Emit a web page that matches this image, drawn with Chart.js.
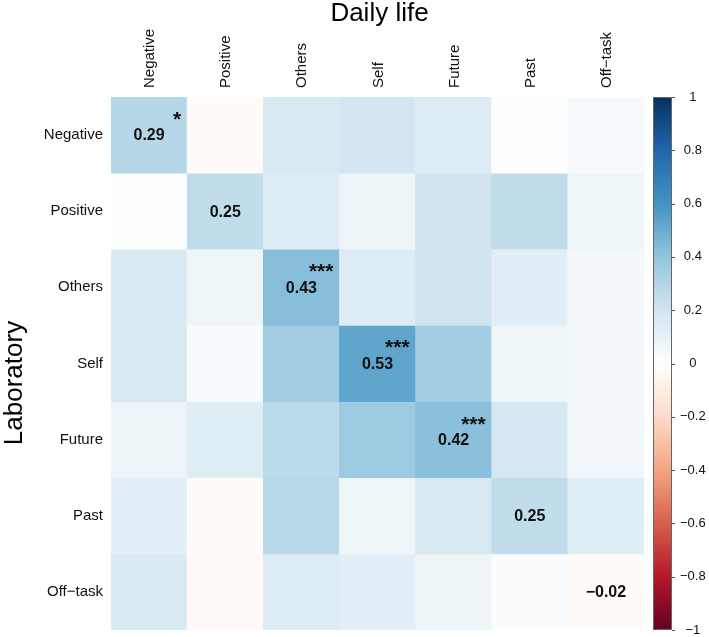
<!DOCTYPE html>
<html lang="en">
<head>
<meta charset="UTF-8">
<title>Daily life x Laboratory</title>
<style>
  body { margin: 0; background: #fff; }
</style>
</head>
<body>
<div style="width:709px;height:637px">
    <canvas id="grafico" width="709" height="637"></canvas>
</div>

<script src="https://cdn.jsdelivr.net/npm/chart.js"></script>

<script>
// colunas = Daily life, linhas = Laboratory
const colunas = ['Negative', 'Positive', 'Others', 'Self', 'Future', 'Past', 'Off\u2212task'];
const linhas = ['Negative', 'Positive', 'Others', 'Self', 'Future', 'Past', 'Off\u2212task'];

// uma lista por linha (Laboratory), na ordem das colunas
const lab_negative = [0.29, -0.02, 0.17, 0.19, 0.15, 0.01, 0.04];
const lab_positive = [0.01, 0.25, 0.15, 0.08, 0.20, 0.25, 0.07];
const lab_others   = [0.16, 0.07, 0.43, 0.15, 0.20, 0.13, 0.05];
const lab_self     = [0.17, 0.03, 0.35, 0.53, 0.35, 0.07, 0.06];
const lab_future   = [0.08, 0.14, 0.27, 0.37, 0.42, 0.18, 0.06];
const lab_past     = [0.12, -0.02, 0.28, 0.07, 0.17, 0.25, 0.14];
const lab_offtask  = [0.16, -0.03, 0.15, 0.12, 0.08, 0.02, -0.02];

const estrelas = ['*', '', '***', '***', '***', '', ''];
const ticksBarra = [-1, -0.8, -0.6, -0.4, -0.2, 0, 0.2, 0.4, 0.6, 0.8, 1];

const matriz = [lab_negative, lab_positive, lab_others, lab_self, lab_future, lab_past, lab_offtask];

// paleta RdBu
const paleta = [
    [-1, '#67001F'], [-0.8, '#B2182B'], [-0.6, '#D6604D'], [-0.4, '#F4A582'], [-0.2, '#FDDBC7'],
    [0, '#FFFFFF'], [0.2, '#D1E5F0'], [0.4, '#92C5DE'], [0.6, '#4393C3'], [0.8, '#2166AC'], [1, '#053061']
];
const hex = h => [1, 3, 5].map(i => parseInt(h.substr(i, 2), 16));
function cor(v) {
    for (let i = 0; i < paleta.length - 1; i++) {
        const [a, ca] = paleta[i], [b, cb] = paleta[i + 1];
        if (v <= b) {
            const t = (v - a) / (b - a), x = hex(ca), y = hex(cb);
            return 'rgb(' + x.map((c, k) => Math.round(c + (y[k] - c) * t)).join(',') + ')';
        }
    }
    return paleta[paleta.length - 1][1];
}
const fmt = v => (v < 0 ? '\u2212' : '') + Math.abs(v).toFixed(2);
const fmtBarra = v => (v < 0 ? '\u2212' : '') + String(Math.abs(v));

const fonte = '"Liberation Sans", Arial, Helvetica, sans-serif';
Chart.defaults.font.family = fonte;
Chart.defaults.color = '#111';

const datasets = matriz.map((linha, i) => ({
    label: linhas[i],
    data: linha.map(() => [i - 0.5, i + 0.5]),
    backgroundColor: linha.map(cor),
    borderWidth: 0,
    grouped: false,
    barPercentage: 1,
    categoryPercentage: 1
}));

const semPadding = s => { s.paddingTop = 0; s.paddingBottom = 0; s.paddingLeft = 0; s.paddingRight = 0; };

const extras = {
    id: 'extras',
    afterDatasetsDraw(chart) {
        const c = chart.ctx, x = chart.scales.x, y = chart.scales.y;
        const w = x.getPixelForValue(1) - x.getPixelForValue(0);
        c.save();
        c.fillStyle = '#111';
        matriz.forEach((linha, i) => {
            const cx = x.getPixelForValue(i), cy = y.getPixelForValue(i);
            c.font = 'bold 16px ' + fonte;
            c.textAlign = 'center';
            c.textBaseline = 'middle';
            c.fillText(fmt(linha[i]), cx, cy + 1);
            if (estrelas[i]) {
                c.font = 'bold 21px ' + fonte;
                c.textAlign = 'right';
                c.textBaseline = 'alphabetic';
                c.fillText(estrelas[i], cx + w / 2 - 6, y.getPixelForValue(i - 0.5) + 29);
            }
        });
        c.restore();
    },
    afterDraw(chart) {
        const c = chart.ctx, s = chart.scales.cb;
        const topo = s.getPixelForValue(1), base = s.getPixelForValue(-1);
        const x0 = s.left + 9, larg = 19;
        const g = c.createLinearGradient(0, topo, 0, base);
        paleta.forEach(([v, h]) => g.addColorStop((1 - v) / 2, h));
        c.save();
        c.fillStyle = g;
        c.fillRect(x0, topo, larg, base - topo);
        c.strokeStyle = '#666';
        c.lineWidth = 1;
        c.strokeRect(x0 + 0.5, topo + 0.5, larg - 1, base - topo - 1);
        c.strokeStyle = '#555';
        ticksBarra.forEach(v => {
            const py = Math.round(s.getPixelForValue(v)) + 0.5;
            c.beginPath();
            c.moveTo(x0 + larg, py);
            c.lineTo(x0 + larg + 3, py);
            c.stroke();
        });
        // titulos dos eixos
        const x = chart.scales.x;
        c.fillStyle = '#000';
        c.font = '26px ' + fonte;
        c.textAlign = 'center';
        c.textBaseline = 'alphabetic';
        c.fillText('Daily life', (x.left + x.right) / 2 + 2, 21);
        c.translate(22, 383);
        c.rotate(-Math.PI / 2);
        c.fillText('Laboratory', 0, 0);
        c.restore();
    }
};

new Chart(document.getElementById('grafico'), {
    type: 'bar',
    data: { labels: colunas, datasets: datasets },
    options: {
        responsive: false,
        animation: false,
        layout: { padding: { bottom: 7 } },
        plugins: { legend: { display: false }, tooltip: { enabled: false } },
        scales: {
            x: {
                type: 'category', position: 'top', offset: true,
                afterFit: s => { s.height = 97; semPadding(s); },
                grid: { display: false, drawTicks: false },
                border: { display: false },
                ticks: {
                    autoSkip: false, minRotation: 90, maxRotation: 90, padding: 9, labelOffset: 19,
                    font: { size: 15 }, color: '#111'
                }
            },
            y: {
                type: 'linear', min: -0.5, max: 6.5, reverse: true,
                afterBuildTicks: s => { s.ticks = linhas.map((_, i) => ({ value: i })); },
                afterFit: s => { s.width = 111; semPadding(s); },
                grid: { display: false, drawTicks: false },
                border: { display: false },
                ticks: { padding: 8, font: { size: 15 }, color: '#111', callback: v => linhas[v] }
            },
            cb: {
                type: 'linear', position: 'right', min: -1, max: 1,
                afterBuildTicks: s => { s.ticks = ticksBarra.map(v => ({ value: v })); },
                afterFit: s => { s.width = 65; semPadding(s); },
                grid: { display: false, drawTicks: true, tickLength: 36 },
                border: { display: false },
                ticks: { padding: 0, crossAlign: 'center', font: { size: 13 }, color: '#111', callback: v => fmtBarra(v) }
            }
        }
    },
    plugins: [extras]
});
</script>
</body>
</html>
